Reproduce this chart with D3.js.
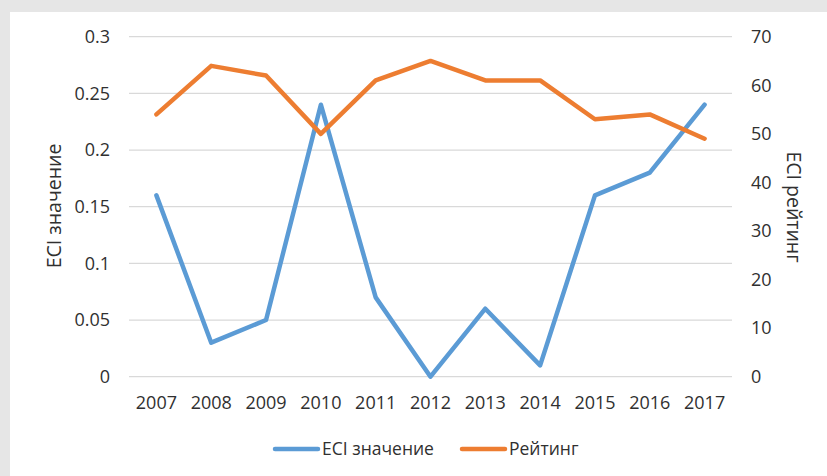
<!DOCTYPE html>
<html>
<head>
<meta charset="utf-8">
<script src="https://cdn.jsdelivr.net/npm/d3@7"></script>
<style>
  body { margin: 0; background: #e6e6e6; }
  svg text { font-family: "Open Sans", "Liberation Sans", sans-serif; fill: #303030; }
</style>
</head>
<body>
<svg id="chart" width="827" height="476"></svg>
<script>
// ── Data ──────────────────────────────────────────────────────────────────────
const years     = ['2007', '2008', '2009', '2010', '2011', '2012', '2013', '2014', '2015', '2016', '2017'];
const eciValues = [0.16, 0.03, 0.05, 0.24, 0.07, 0, 0.06, 0.01, 0.16, 0.18, 0.24];
const ratings   = [54, 64, 62, 50, 61, 65, 61, 61, 53, 54, 49];
const leftTicks  = [0, 0.05, 0.1, 0.15, 0.2, 0.25, 0.3];
const rightTicks = [0, 10, 20, 30, 40, 50, 60, 70];

const BLUE = '#5b9bd5';
const ORANGE = '#ed7d31';
const TEXT = '#303030';

// ── Layout ────────────────────────────────────────────────────────────────────
const svg = d3.select('#chart');
const plot = { left: 129, right: 732, top: 36.7, bottom: 376.7 };

svg.append('rect')
  .attr('x', 10).attr('y', 12)
  .attr('width', 817).attr('height', 464)
  .attr('fill', '#ffffff');

const x = d3.scaleBand().domain(years).range([plot.left, plot.right]);
const yLeft = d3.scaleLinear().domain([0, 0.3]).range([plot.bottom, plot.top]);
const yRight = d3.scaleLinear().domain([0, 70]).range([plot.bottom, plot.top]);

// ── Gridlines ────────────────────────────────────────────────────────────────
svg.append('g')
  .selectAll('line')
  .data(leftTicks)
  .join('line')
  .attr('x1', plot.left).attr('x2', plot.right)
  .attr('y1', d => yLeft(d)).attr('y2', d => yLeft(d))
  .attr('stroke', '#d9d9d9')
  .attr('stroke-width', 1.3);

// ── Axes ─────────────────────────────────────────────────────────────────────
const leftAxis = svg.append('g')
  .attr('transform', `translate(${plot.left},0)`)
  .call(d3.axisLeft(yLeft).tickValues(leftTicks).tickSize(0).tickPadding(19).tickFormat(d => String(d)));

const rightAxis = svg.append('g')
  .attr('transform', `translate(${plot.right},0)`)
  .call(d3.axisRight(yRight).tickValues(rightTicks).tickSize(0).tickPadding(19).tickFormat(d => String(d)));

const bottomAxis = svg.append('g')
  .attr('transform', `translate(0,${plot.bottom})`)
  .call(d3.axisBottom(x).tickSize(0).tickPadding(20));

[leftAxis, rightAxis, bottomAxis].forEach(g => {
  g.select('.domain').remove();
  g.selectAll('text')
    .attr('font-size', 18)
    .attr('fill', TEXT)
    .style('font-family', '"Open Sans", "Liberation Sans", sans-serif');
});

// ── Axis titles ──────────────────────────────────────────────────────────────
svg.append('text')
  .attr('transform', 'translate(61,206) rotate(-90)')
  .attr('text-anchor', 'middle')
  .attr('font-size', 19.5)
  .text('ECI значение');

svg.append('text')
  .attr('transform', 'translate(787,207) rotate(90)')
  .attr('text-anchor', 'middle')
  .attr('font-size', 19.5)
  .text('ECI рейтинг');

// ── Lines ────────────────────────────────────────────────────────────────────
const cx = d => x(d) + x.bandwidth() / 2;

const eciLine = d3.line()
  .x((d, i) => cx(years[i]))
  .y(d => yLeft(d));

const ratingLine = d3.line()
  .x((d, i) => cx(years[i]))
  .y(d => yRight(d));

svg.append('path')
  .datum(eciValues)
  .attr('d', eciLine)
  .attr('fill', 'none')
  .attr('stroke', BLUE)
  .attr('stroke-width', 4.5)
  .attr('stroke-linejoin', 'round')
  .attr('stroke-linecap', 'round');

svg.append('path')
  .datum(ratings)
  .attr('d', ratingLine)
  .attr('fill', 'none')
  .attr('stroke', ORANGE)
  .attr('stroke-width', 4.5)
  .attr('stroke-linejoin', 'round')
  .attr('stroke-linecap', 'round');

// ── Legend ───────────────────────────────────────────────────────────────────
const legendItems = [
  { label: 'ECI значение', color: BLUE, x: 273 },
  { label: 'Рейтинг', color: ORANGE, x: 460 },
];

const legend = svg.append('g');
legendItems.forEach(item => {
  legend.append('line')
    .attr('x1', item.x + 2).attr('x2', item.x + 45)
    .attr('y1', 449).attr('y2', 449)
    .attr('stroke', item.color)
    .attr('stroke-width', 4.5)
    .attr('stroke-linecap', 'round');
  legend.append('text')
    .attr('x', item.x + 49)
    .attr('y', 449)
    .attr('dy', '0.35em')
    .attr('font-size', 17.5)
    .text(item.label);
});
</script>
</body>
</html>
